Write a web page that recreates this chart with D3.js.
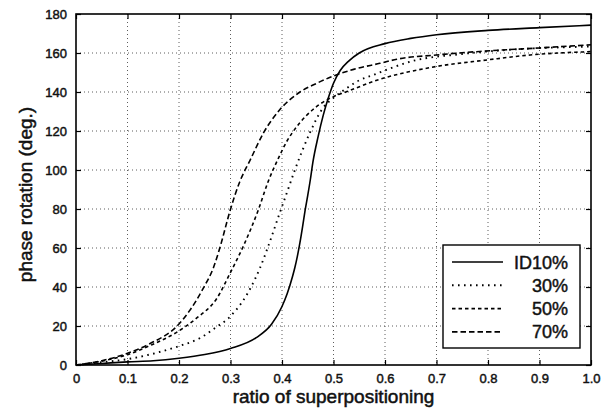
<!DOCTYPE html>
<html><head><meta charset="utf-8">
<script src="https://cdn.jsdelivr.net/npm/d3@7/dist/d3.min.js"></script>
<style>
html,body{margin:0;padding:0;background:#fff;}
text{font-family:"Liberation Sans",Arial,Helvetica,sans-serif;fill:#111;}
</style></head>
<body>
<svg id="chart" width="614" height="410"></svg>
<script>
// ---- data ----
const xTicks = [0,0.1,0.2,0.3,0.4,0.5,0.6,0.7,0.8,0.9,1.0];
const xTickLabels = ["0","0.1","0.2","0.3","0.4","0.5","0.6","0.7","0.8","0.9","1.0"];
const yTicks = [0,20,40,60,80,100,120,140,160,180];
const seriesNames = ["ID10%","30%","50%","70%"];

const id10 = [[0,0],[0.05,0.8],[0.1,1.6],[0.15,2.2],[0.2,3.5],[0.25,5.4],[0.3,8.5],[0.35,14],[0.38,21],[0.4,30],
  [0.41,36.5],[0.42,45],[0.425,50],[0.43,56],[0.435,63],[0.44,71],[0.445,79.5],[0.45,87],[0.455,95],[0.46,104],
  [0.47,117],[0.48,128],[0.49,137],[0.5,144.5],[0.513,151],[0.53,156],[0.55,160],[0.6,164.8],[0.65,167.5],
  [0.7,169.4],[0.8,171.6],[0.9,173],[1.0,174.3]];
const r30 = [[0,0],[0.05,1.4],[0.1,3],[0.16,6.5],[0.2,9.7],[0.24,13.7],[0.27,19],[0.3,25],[0.34,40],[0.357,49.6],
  [0.373,60.7],[0.393,76],[0.409,88],[0.425,100],[0.438,109],[0.454,119],[0.48,132],[0.5,137],[0.526,142],
  [0.545,145.3],[0.577,148.7],[0.655,156],[0.75,159.5],[0.85,161.8],[1.0,163.3]];
const r50 = [[0,0],[0.05,2],[0.1,5.3],[0.144,10],[0.2,17.5],[0.234,24],[0.273,34],[0.3,47.5],[0.325,61],
  [0.354,79.5],[0.373,94],[0.393,106],[0.41,115],[0.428,122],[0.467,132.5],[0.493,136.8],[0.526,140.2],
  [0.584,146],[0.687,152.5],[0.8,156.5],[0.882,159],[1.0,160.7]];
const r70 = [[0,0],[0.05,2.2],[0.1,6],[0.144,11],[0.2,21],[0.221,28],[0.247,39.3],[0.267,50],[0.28,60.7],
  [0.299,79],[0.318,94],[0.338,105],[0.364,119],[0.396,131],[0.435,140],[0.467,144.4],[0.5,148.2],
  [0.539,151.6],[0.59,154.7],[0.623,156.8],[0.7,159],[0.784,160.8],[0.9,162.6],[1.0,164.2]];
const seriesData = [id10, r30, r50, r70];

// ---- layout ----
const svg = d3.select("#chart");
const L = 76, R = 591, T = 14, B = 365;
const x = d3.scaleLinear().domain([0,1]).range([L,R]);
const y = d3.scaleLinear().domain([0,180]).range([B,T]);

// grid
const g = svg.append("g");
g.selectAll(".vg").data(xTicks.slice(1,-1)).enter().append("line")
  .attr("x1",d=>x(d)).attr("x2",d=>x(d)).attr("y1",T).attr("y2",B)
  .attr("stroke","#333").attr("stroke-width",0.8).attr("stroke-dasharray","1,3");
g.selectAll(".hg").data(yTicks.slice(1,-1)).enter().append("line")
  .attr("y1",d=>y(d)).attr("y2",d=>y(d)).attr("x1",L).attr("x2",R)
  .attr("stroke","#333").attr("stroke-width",0.8).attr("stroke-dasharray","1,3");

// axes
const fmtX = d=>xTickLabels[xTicks.indexOf(d)];
const axB = d3.axisBottom(x).tickValues(xTicks).tickFormat(fmtX).tickSizeInner(-5).tickSizeOuter(0).tickPadding(9);
const axT = d3.axisTop(x).tickValues(xTicks).tickFormat("").tickSizeInner(-5).tickSizeOuter(0);
const axLft = d3.axisLeft(y).tickValues(yTicks).tickSizeInner(-5).tickSizeOuter(0).tickPadding(9);
const axRt = d3.axisRight(y).tickValues(yTicks).tickFormat("").tickSizeInner(-5).tickSizeOuter(0);
function styleAxis(sel){
  sel.select(".domain").remove();
  sel.selectAll("line").attr("stroke","#000").attr("stroke-width",1.2);
  sel.selectAll("text").style("font-size","13px").attr("fill","#111")
    .attr("stroke","#111").attr("stroke-width",0.45)
    .style("font-family",'"Liberation Sans",Arial,sans-serif');
}
svg.append("g").attr("transform",`translate(0,${B})`).call(axB).call(styleAxis);
svg.append("g").attr("transform",`translate(0,${T})`).call(axT).call(styleAxis);
svg.append("g").attr("transform",`translate(${L},0)`).call(axLft).call(styleAxis);
svg.append("g").attr("transform",`translate(${R},0)`).call(axRt).call(styleAxis);

// frame
svg.append("rect").attr("x",L).attr("y",T).attr("width",R-L).attr("height",B-T)
  .attr("fill","none").attr("stroke","#000").attr("stroke-width",1.6);

// lines
const dashes = [null,"1.6,4.4","3.5,3","5.5,3"];
const widths = [1.6,1.9,1.6,1.6];
const line = d3.line().x(d=>x(d[0])).y(d=>y(d[1])).curve(d3.curveMonotoneX);
seriesData.forEach((s,i)=>{
  svg.append("path").datum(s).attr("d",line).attr("fill","none")
    .attr("stroke","#000").attr("stroke-width",widths[i])
    .attr("stroke-dasharray",dashes[i]);
});

// legend
const lg = svg.append("g");
lg.append("rect").attr("x",443).attr("y",245).attr("width",137).attr("height",103)
  .attr("fill","#fff").attr("stroke","#000").attr("stroke-width",1.4);
seriesNames.forEach((n,i)=>{
  const yy = 262 + i*23.3;
  lg.append("line").attr("x1",452).attr("x2",503).attr("y1",yy).attr("y2",yy)
    .attr("stroke","#000").attr("stroke-width",widths[i]).attr("stroke-dasharray",dashes[i]);
  lg.append("text").attr("x",568).attr("y",yy+6.5).attr("text-anchor","end")
    .attr("stroke","#111").attr("stroke-width",0.45)
    .style("font-size","18px").text(n);
});

// axis labels
svg.append("text").attr("x",(L+R)/2).attr("y",403).attr("text-anchor","middle")
  .attr("stroke","#111").attr("stroke-width",0.5)
  .style("font-size","19px").text("ratio of superpositioning");
svg.append("text").attr("transform",`translate(32,${(T+B)/2+5}) rotate(-90)`).attr("text-anchor","middle")
  .attr("stroke","#111").attr("stroke-width",0.5)
  .style("font-size","19px").text("phase rotation (deg.)");
</script>
</body></html>
